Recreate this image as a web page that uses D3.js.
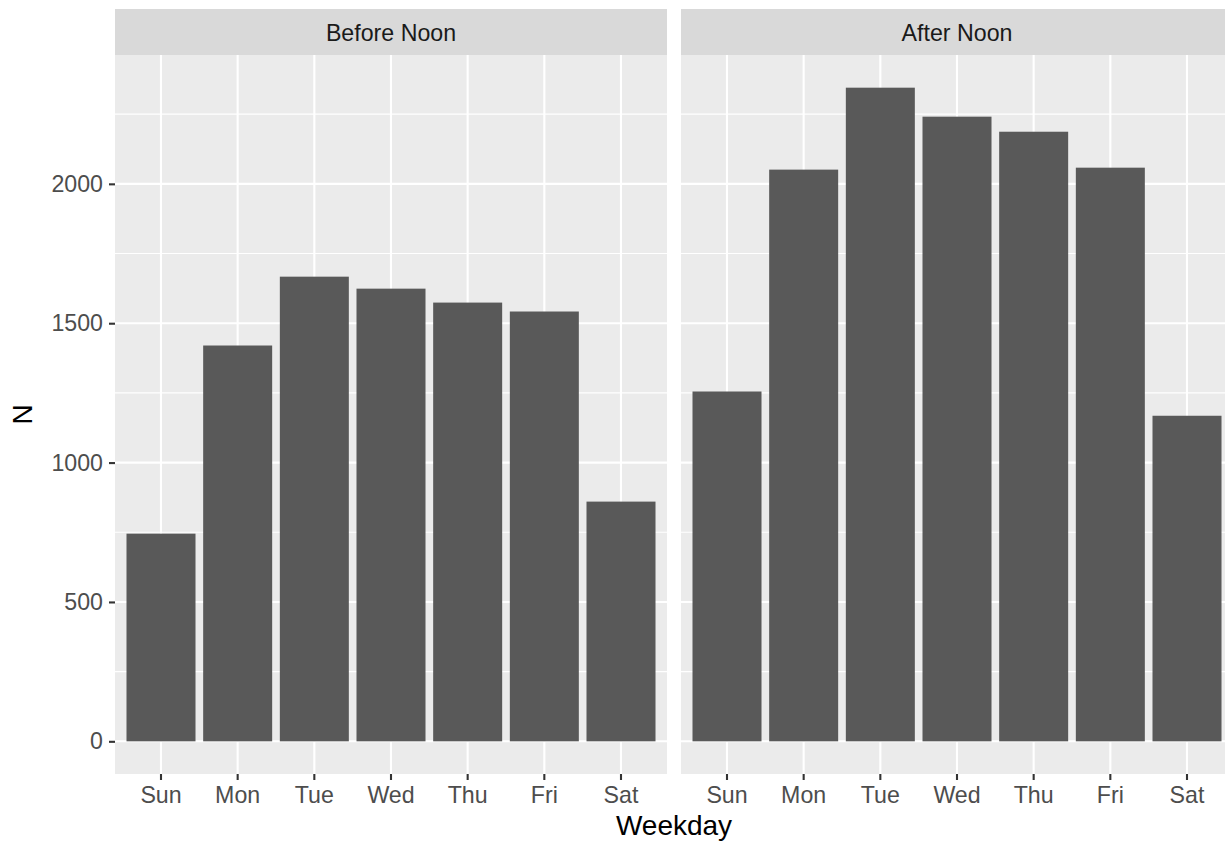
<!DOCTYPE html>
<html><head><meta charset="utf-8">
<script src="https://cdn.jsdelivr.net/npm/d3@7"></script>
<style>body{margin:0;background:#fff}svg{display:block}</style>
</head><body>
<svg id="chart" width="1225" height="841"></svg>
<script>
const weekdays = ["Sun","Mon","Tue","Wed","Thu","Fri","Sat"];
const panels = ["Before Noon","After Noon"];
const beforeNoon = [745, 1420, 1667, 1624, 1574, 1542, 860];
const afterNoon = [1255, 2051, 2345, 2241, 2187, 2058, 1168];
const yTicks = [0, 500, 1000, 1500, 2000];
const yMinor = [250, 750, 1250, 1750, 2250];
const xTitle = "Weekday", yTitle = "N";

const seriesByPanel = [beforeNoon, afterNoon];
const svg = d3.select("#chart");
const font = "'Liberation Sans', Arial, Helvetica, sans-serif";
const fs = 23.2;
const panelTop = 55, panelBottom = 774, stripTop = 9;
const panelX = [[115, 667], [681, 1233]];

const maxV = d3.max(seriesByPanel.flat());
const y = d3.scaleLinear().domain([-0.05*maxV, 1.05*maxV]).range([panelBottom, panelTop]);

svg.append("defs").append("clipPath").attr("id","c").append("rect")
  .attr("x",0).attr("y",0).attr("width",1225).attr("height",841);
const root = svg.append("g").attr("clip-path","url(#c)");

panels.forEach((pname, pi) => {
  const [x0, x1] = panelX[pi];
  const x = d3.scaleBand().domain(weekdays).range([x0, x1]).paddingInner(0.1).paddingOuter(0.15);
  const g = root.append("g");
  g.append("rect").attr("x", x0).attr("y", panelTop).attr("width", x1-x0).attr("height", panelBottom-panelTop).attr("fill","#EBEBEB");
  g.selectAll(".ymin").data(yMinor).join("line")
    .attr("x1", x0).attr("x2", x1).attr("y1", d=>y(d)).attr("y2", d=>y(d))
    .attr("stroke","#fff").attr("stroke-width",1.1);
  g.selectAll(".ymaj").data(yTicks).join("line")
    .attr("x1", x0).attr("x2", x1).attr("y1", d=>y(d)).attr("y2", d=>y(d))
    .attr("stroke","#fff").attr("stroke-width",2.1);
  g.selectAll(".xmaj").data(weekdays).join("line")
    .attr("x1", d=>x(d)+x.bandwidth()/2).attr("x2", d=>x(d)+x.bandwidth()/2)
    .attr("y1", panelTop).attr("y2", panelBottom)
    .attr("stroke","#fff").attr("stroke-width",2.1);
  g.selectAll(".bar").data(weekdays.map((w,i)=>({w, v: seriesByPanel[pi][i]}))).join("rect")
    .attr("x", d=>x(d.w)).attr("width", x.bandwidth())
    .attr("y", d=>y(d.v)).attr("height", d=>y(0)-y(d.v))
    .attr("fill","#595959");
  g.append("rect").attr("x", x0).attr("y", stripTop).attr("width", x1-x0).attr("height", panelTop-stripTop).attr("fill","#D9D9D9");
  g.append("text").attr("x",(x0+x1)/2).attr("y",41).attr("text-anchor","middle")
    .attr("font-family",font).attr("font-size",fs).attr("fill","#1A1A1A").text(pname);
  const xa = g.append("g").attr("transform",`translate(0,${panelBottom})`)
    .call(d3.axisBottom(x).tickSize(6).tickPadding(7));
  xa.select(".domain").remove();
  xa.selectAll(".tick line").attr("stroke","#333333").attr("stroke-width",2.1);
  xa.selectAll(".tick text").attr("font-family",font).attr("font-size",fs).attr("fill","#4D4D4D").attr("dy","0.71em");
  if (pi === 0) {
    const ya = g.append("g").attr("transform",`translate(${x0},0)`)
      .call(d3.axisLeft(y).tickValues(yTicks).tickFormat(d3.format("d")).tickSize(6).tickPadding(6));
    ya.select(".domain").remove();
    ya.selectAll(".tick line").attr("stroke","#333333").attr("stroke-width",2.1);
    ya.selectAll(".tick text").attr("font-family",font).attr("font-size",fs).attr("fill","#4D4D4D");
  }
});

svg.append("text").attr("x",(panelX[0][0]+panelX[1][1])/2).attr("y",835).attr("text-anchor","middle")
  .attr("font-family",font).attr("font-size",28).attr("fill","#000").text(xTitle);
svg.append("text").attr("transform",`translate(32,${(panelTop+panelBottom)/2}) rotate(-90)`).attr("text-anchor","middle")
  .attr("font-family",font).attr("font-size",28).attr("fill","#000").text(yTitle);
</script>
</body></html>
